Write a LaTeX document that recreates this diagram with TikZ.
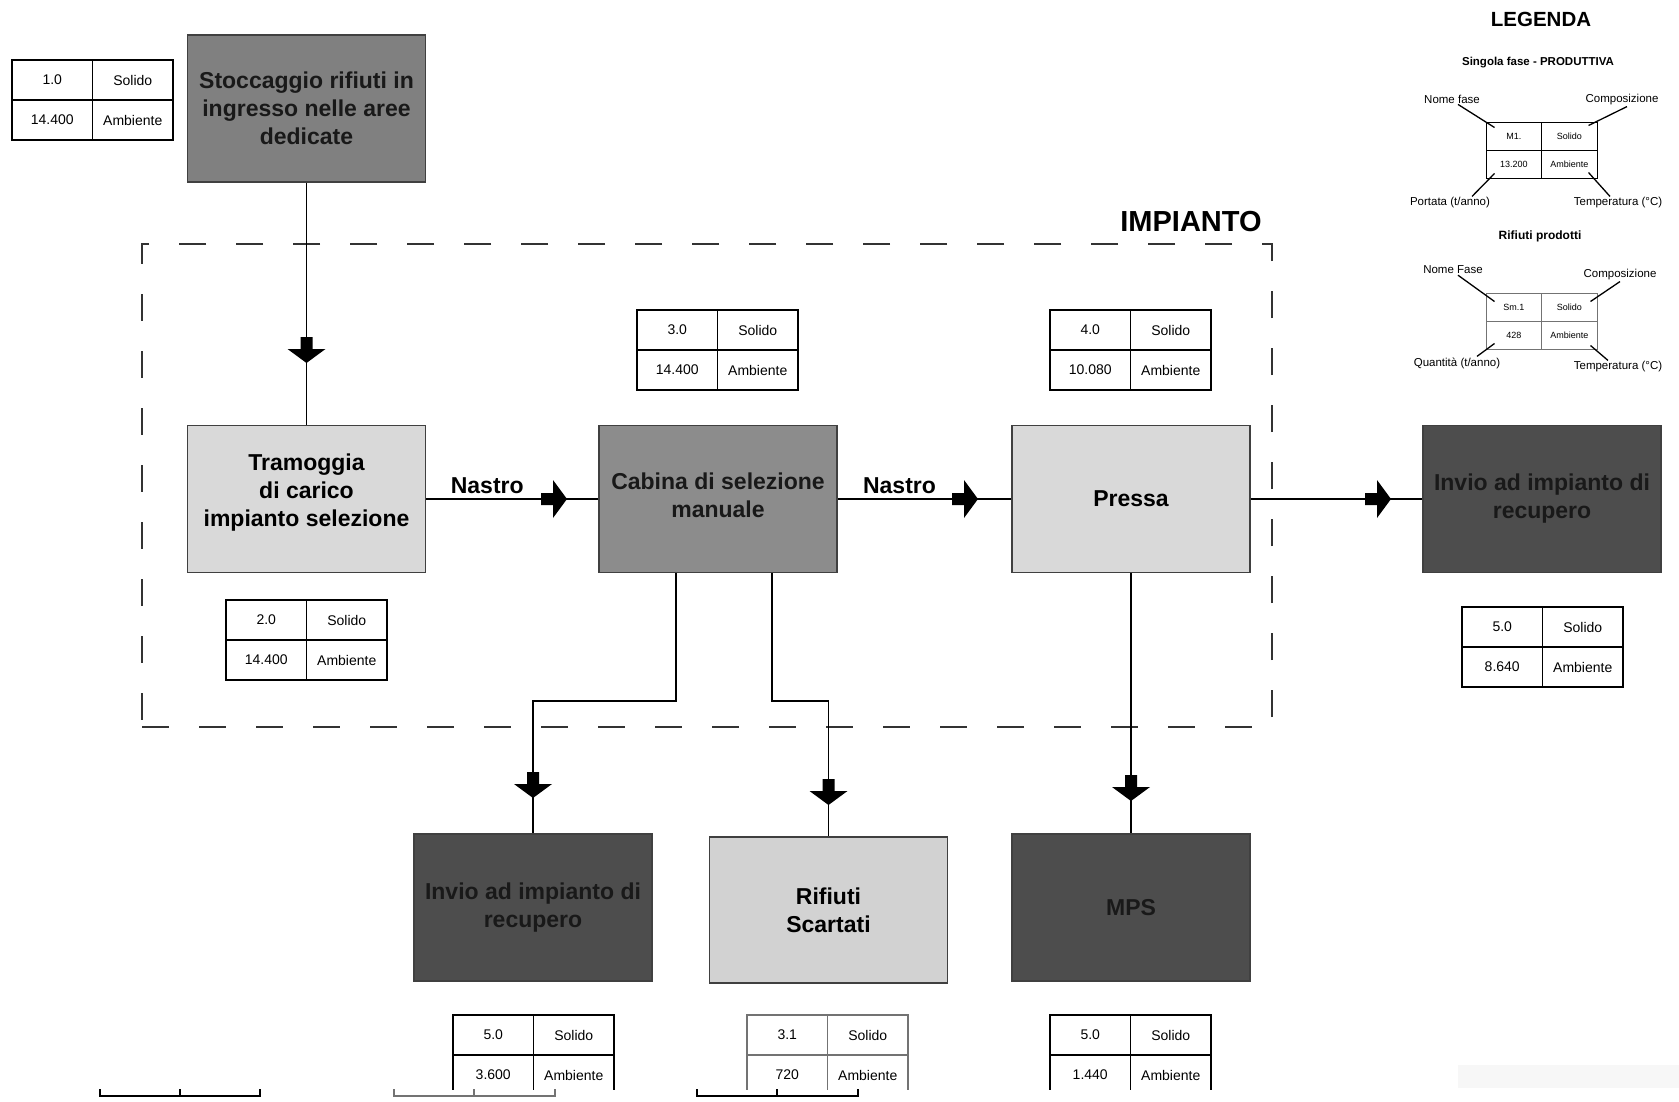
\documentclass[tikz,border=0pt]{standalone}
\usepackage{fontspec}
\setmainfont{Liberation Sans}
\definecolor{gmidA}{HTML}{808080}
\definecolor{gmidB}{HTML}{8C8C8C}
\definecolor{glight}{HTML}{D9D9D9}
\definecolor{glightB}{HTML}{D2D2D2}
\definecolor{gdark}{HTML}{4D4D4D}
\newcommand{\ftab}[8][cell]{%
  \node[#1] (#2a) at (#3+40.25,#4+20) {#5};
  \node[#1] (#2b) at (#3+120.75,#4+20) {#6};
  \node[#1] (#2c) at (#3+40.25,#4+60) {#7};
  \node[#1] (#2d) at (#3+120.75,#4+60) {#8};
}
\newcommand{\ltab}[8][lcell]{%
  \node[#1] (#2a) at (#3+27.75,#4+14) {#5};
  \node[#1] (#2b) at (#3+83.25,#4+14) {#6};
  \node[#1] (#2c) at (#3+27.75,#4+42) {#7};
  \node[#1] (#2d) at (#3+83.25,#4+42) {#8};
}
\begin{document}
\begin{tikzpicture}[x=1pt,y=-1pt,
  box/.style={draw=black!75, line width=1.8pt, inner sep=2pt, align=center,
    font=\bfseries\fontsize{23}{28}\selectfont, minimum width=238pt, minimum height=147pt},
  conn/.style={line width=1.4pt, black},
  cell/.style={draw=black, line width=1.2pt, minimum width=80.5pt, minimum height=40pt,
    inner sep=0pt, font=\fontsize{14}{16}\selectfont},
  gcell/.style={cell, draw=black!55},
  lcell/.style={draw=black, line width=1pt, minimum width=55.5pt, minimum height=28pt,
    inner sep=0pt, font=\fontsize{9}{10}\selectfont},
  glcell/.style={lcell, draw=black!55},
  ltxt/.style={font=\fontsize{11.5}{13}\selectfont, inner sep=1pt},
  lhead/.style={font=\bfseries\fontsize{11.5}{13}\selectfont, inner sep=1pt},
  lline/.style={line width=1.3pt},
  nastro/.style={pos=0.5, above=1pt, xshift=-25pt, font=\bfseries\fontsize{23}{28}\selectfont},
  frame/.style={draw=black!80, line width=1.5pt, dash pattern=on 27pt off 30pt},
  barrow/.pic={\fill (0,0) -- (-14,19) -- (-14,6) -- (-26,6) -- (-26,-6) -- (-14,-6) -- (-14,-19) -- cycle;}
]
\useasboundingbox[fill=white] (0,0) rectangle (1679,1101);

% faint artefact band
\fill[black!3] (1458,1065) rectangle (1679,1088);

% dashed plant frame
\node[frame, minimum width=1130pt, minimum height=483pt, inner sep=0pt] (frame) at (707,485.5) {};
\node[font=\bfseries\fontsize{29}{32}\selectfont] (impianto) at (1191,222) {IMPIANTO};

% boxes
\node[box, fill=gmidA, text=black!90] (stock) at (306.5,108.5) {Stoccaggio rifiuti in\\ingresso nelle aree\\dedicate};
\node[box, fill=glight] (tram) at (306.5,499) {Tramoggia\\di carico\\impianto selezione\\[-19pt]\strut};
\node[box, fill=gmidB, text=black!90] (cab) at (718,499) {Cabina di selezione\\manuale\\[-28pt]\strut};
\node[box, fill=glight] (pressa) at (1131,499) {Pressa};
\node[box, fill=gdark, text=black!90] (invioR) at (1542,499) {Invio ad impianto di\\recupero};
\node[box, fill=gdark, text=black!90] (invioB) at (533,907.5) {Invio ad impianto di\\recupero};
\node[box, fill=glightB, minimum height=146pt] (rif) at (828.5,910) {Rifiuti\\Scartati};
\node[box, fill=gdark, text=black!90] (mps) at (1131,907.5) {MPS};

% connectors
\coordinate (c1) at (676,701);
\coordinate (c2) at (772,701);
\draw[conn] (stock.south) -- (tram.north);
\draw[conn] (tram.east) -- node[nastro] (n1) {Nastro} (cab.west);
\draw[conn] (cab.east) -- node[nastro] (n2) {Nastro} (pressa.west);
\draw[conn] (pressa.east) -- (invioR.west);
\draw[conn] (cab.south -| c1) -- (c1) -- (c1 -| invioB.north) -- (invioB.north);
\draw[conn] (cab.south -| c2) -- (c2) -- (c2 -| rif.north) -- (rif.north);
\draw[conn] (pressa.south) -- (mps.north);

\pic[rotate=-90] at (306.5,363) {barrow};
\pic at (567,499) {barrow};
\pic at (978,499) {barrow};
\pic at (1391,499) {barrow};
\pic[rotate=-90] at (533,798) {barrow};
\pic[rotate=-90] at (828.5,805) {barrow};
\pic[rotate=-90] at (1131,801) {barrow};

% data tables
\ftab{ta}{12}{60}{1.0}{Solido}{14.400}{Ambiente}
\ftab{tb}{226}{600}{2.0}{Solido}{14.400}{Ambiente}
\ftab{tc}{637}{310}{3.0}{Solido}{14.400}{Ambiente}
\ftab{td}{1050}{310}{4.0}{Solido}{10.080}{Ambiente}
\ftab{te}{1462}{607}{5.0}{Solido}{8.640}{Ambiente}
\begin{scope}
\clip (0,0) rectangle (1679,1089);
\ftab{tf}{453}{1015}{5.0}{Solido}{3.600}{Ambiente}
\ftab[gcell]{tg}{747}{1015}{3.1}{Solido}{720}{Ambiente}
\ftab{th}{1050}{1015}{5.0}{Solido}{1.440}{Ambiente}
\end{scope}

% bottom edge marks
\draw[line width=1.2pt] (100,1089) -- (100,1096) -- (260,1096) -- (260,1089) (180,1089) -- (180,1096);
\draw[line width=1.2pt, black!55] (394,1089) -- (394,1096) -- (555,1096) -- (555,1089) (474,1089) -- (474,1096);
\draw[line width=1.2pt] (697,1089) -- (697,1096) -- (858,1096) -- (858,1089) (777,1089) -- (777,1096);

% legend
\node[font=\bfseries\fontsize{20.5}{23}\selectfont] (leg) at (1541,19) {LEGENDA};
\node[lhead] (lh1) at (1538,63) {Singola fase - PRODUTTIVA};
\ltab{la}{1486}{122}{M1.}{Solido}{13.200}{Ambiente}
\node[ltxt] (nf1) at (1452,99) {Nome fase};
\node[ltxt] (co1) at (1622,100) {Composizione};
\node[ltxt] (po1) at (1450,203) {Portata (t/anno)};
\node[ltxt] (te1) at (1618,203) {Temperatura (°C)};
\draw[lline] ([xshift=6pt]nf1.south) -- ([shift={(9,6)}]laa.north west);
\draw[lline] ([xshift=5pt]co1.south) -- ([shift={(-9,4)}]lab.north east);
\draw[lline] ([xshift=22pt]po1.north) -- ([shift={(9,-5)}]lac.south west);
\draw[lline] ([xshift=-8pt]te1.north) -- ([shift={(-9,-6)}]lad.south east);

\node[lhead, font=\bfseries\fontsize{12}{14}\selectfont] (lh2) at (1540,236) {Rifiuti prodotti};
\ltab[glcell]{lb}{1486}{293}{Sm.1}{Solido}{428}{Ambiente}
\node[ltxt] (nf2) at (1453,270) {Nome Fase};
\node[ltxt] (co2) at (1620,275) {Composizione};
\node[ltxt] (qu2) at (1457,363) {Quantità (t/anno)};
\node[ltxt] (te2) at (1618,367) {Temperatura (°C)};
\draw[lline] ([xshift=5pt]nf2.south) -- ([shift={(9,9)}]lba.north west);
\draw[lline] (co2.south) -- ([shift={(-7,9)}]lbb.north east);
\draw[lline] ([xshift=20pt]qu2.north) -- ([shift={(9,-6)}]lbc.south west);
\draw[lline] ([xshift=-10pt]te2.north) -- ([shift={(-7,-4)}]lbd.south east);
\end{tikzpicture}
\end{document}
